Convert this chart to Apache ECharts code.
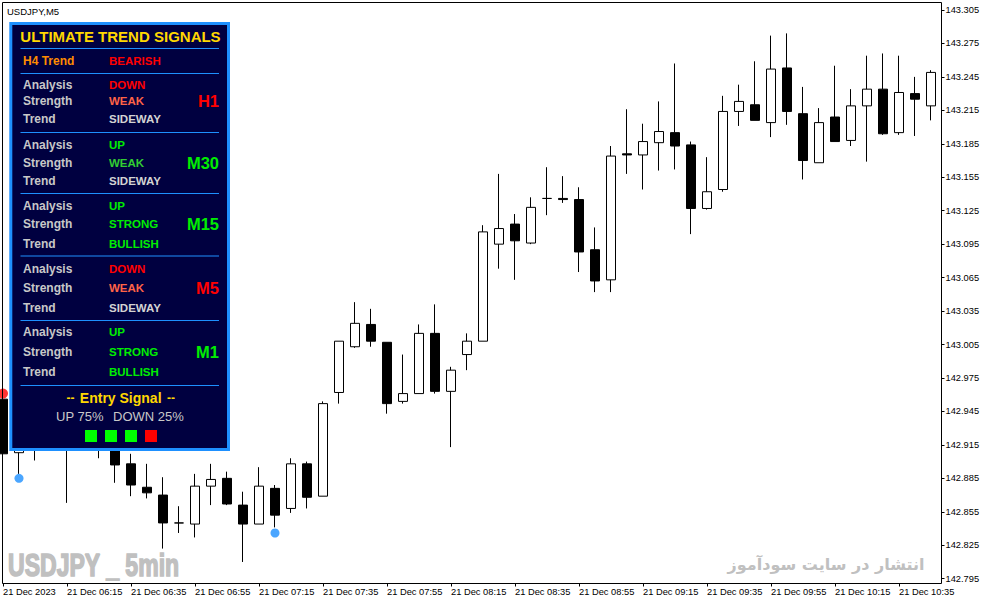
<!DOCTYPE html>
<html>
<head>
<meta charset="utf-8">
<title>USDJPY M5</title>
<script src="https://cdn.jsdelivr.net/npm/echarts/dist/echarts.min.js"></script>
<style>
  html, body { margin: 0; padding: 0; background: #fff; }
  #chart { width: 987px; height: 605px; }
</style>
</head>
<body>
<div id="chart"></div>
<script>
// 5 minute bars, 21 Dec 2023
const times = [
  "05:55", "06:00", "06:05", "06:10", "06:15", "06:20", "06:25", "06:30", "06:35", "06:40",
  "06:45", "06:50", "06:55", "07:00", "07:05", "07:10", "07:15", "07:20", "07:25", "07:30",
  "07:35", "07:40", "07:45", "07:50", "07:55", "08:00", "08:05", "08:10", "08:15", "08:20",
  "08:25", "08:30", "08:35", "08:40", "08:45", "08:50", "08:55", "09:00", "09:05", "09:10",
  "09:15", "09:20", "09:25", "09:30", "09:35", "09:40", "09:45", "09:50", "09:55", "10:00",
  "10:05", "10:10", "10:15", "10:20", "10:25", "10:30", "10:35", "10:40", "10:45"
];

const open = [
  142.956, 142.908, 142.929, 142.915, 142.938, 142.920, 142.933, 142.920, 142.898, 142.877,
  142.870, 142.845, 142.844, 142.878, 142.885, 142.861, 142.844, 142.876, 142.858, 142.898,
  142.869, 142.962, 143.003, 143.023, 143.007, 142.954, 142.961, 143.015, 142.963, 142.996,
  143.008, 143.095, 143.113, 143.096, 143.136, 143.136, 143.135, 143.090, 143.063, 143.176,
  143.175, 143.186, 143.195, 143.184, 143.127, 143.144, 143.214, 143.220, 143.204, 143.253,
  143.212, 143.168, 143.209, 143.188, 143.219, 143.234, 143.195, 143.230, 143.219
];
const close = [
  142.907, 142.929, 142.915, 142.938, 142.920, 142.933, 142.920, 142.897, 142.879, 142.872,
  142.845, 142.845, 142.878, 142.884, 142.862, 142.844, 142.878, 142.852, 142.898, 142.868,
  142.952, 143.008, 143.024, 143.008, 142.952, 142.961, 143.015, 142.963, 142.982, 143.008,
  143.106, 143.109, 143.098, 143.128, 143.136, 143.135, 143.088, 143.062, 143.174, 143.175,
  143.187, 143.196, 143.183, 143.127, 143.142, 143.214, 143.223, 143.206, 143.252, 143.214,
  143.170, 143.204, 143.187, 143.219, 143.234, 143.194, 143.231, 143.225, 143.249
];
const high = [
  142.958, 142.933, 142.938, 142.947, 142.951, 142.938, 142.942, 142.929, 142.907, 142.898,
  142.886, 142.860, 142.889, 142.898, 142.891, 142.873, 142.895, 142.879, 142.903, 142.900,
  142.954, 143.008, 143.043, 143.037, 143.007, 142.996, 143.023, 143.041, 142.985, 143.015,
  143.112, 143.158, 143.122, 143.137, 143.164, 143.156, 143.146, 143.110, 143.183, 143.216,
  143.203, 143.223, 143.257, 143.187, 143.173, 143.228, 143.238, 143.259, 143.282, 143.284,
  143.236, 143.217, 143.255, 143.234, 143.264, 143.266, 143.264, 143.245, 143.251
];
const low = [
  142.906, 142.889, 142.901, 142.913, 142.863, 142.914, 142.903, 142.881, 142.869, 142.867,
  142.822, 142.836, 142.832, 142.861, 142.861, 142.810, 142.844, 142.841, 142.854, 142.858,
  142.869, 142.952, 143.002, 143.003, 142.943, 142.952, 142.961, 142.961, 142.913, 142.982,
  143.008, 143.073, 143.063, 143.095, 143.121, 143.132, 143.070, 143.052, 143.052, 143.158,
  143.144, 143.161, 143.162, 143.104, 143.126, 143.142, 143.201, 143.206, 143.191, 143.202,
  143.153, 143.168, 143.187, 143.183, 143.169, 143.193, 143.193, 143.192, 143.206
];

// signal dots
const buyIdx = [1, 17];
const buyPrice = [142.885, 142.836];
const sellIdx = [0];
const sellPrice = [142.961];

// tick labels
const xLabels = [
  "21 Dec 2023", "21 Dec 06:15", "21 Dec 06:35", "21 Dec 06:55", "21 Dec 07:15",
  "21 Dec 07:35", "21 Dec 07:55", "21 Dec 08:15", "21 Dec 08:35", "21 Dec 08:55",
  "21 Dec 09:15", "21 Dec 09:35", "21 Dec 09:55", "21 Dec 10:15", "21 Dec 10:35"
];
const yMin = 142.795;
const yStep = 0.03;

// indicator panel
const h4Trend = "BEARISH";
const tfLabels = ["H1", "M30", "M15", "M5", "M1"];
const analysis = ["DOWN", "UP", "UP", "DOWN", "UP"];
const strength = ["WEAK", "WEAK", "STRONG", "WEAK", "STRONG"];
const trendState = ["SIDEWAY", "SIDEWAY", "BULLISH", "SIDEWAY", "BULLISH"];
const entryUp = 75;
const entryDown = 25;
const entryBoxes = ["UP", "UP", "UP", "DOWN"];

const FONT = '"Liberation Sans", Arial, sans-serif';

function wordColor(word, dir) {
  if (word === "DOWN" || word === "BEARISH") return "#ff0000";
  if (word === "UP" || word === "BULLISH" || word === "STRONG") return "#00ee00";
  if (word === "WEAK") return dir === "DOWN" ? "#ff6347" : "#32cd32";
  return "#d3d3d3";
}

function txt(x, y, text, fill, font, align) {
  return {
    type: "text",
    x: x,
    y: y,
    z: 102,
    silent: true,
    style: {
      text: text,
      fill: fill,
      font: font,
      textAlign: align || "left",
      textVerticalAlign: "middle",
      align: align || "left",
      verticalAlign: "middle",
    },
  };
}

function buildPanel() {
  const els = [];
  // frame of the price window
  els.push({
    type: "rect",
    z: 50,
    silent: true,
    shape: { x: 2.5, y: 2.5, width: 939, height: 581 },
    style: { fill: "none", stroke: "#000", lineWidth: 1 },
  });
  els.push(txt(7, 11.5, "USDJPY,M5", "#000", "9.5px " + FONT));

  // watermarks
  els.push({
    type: "text",
    x: 8,
    y: 565,
    z: 1,
    scaleX: 0.72,
    silent: true,
    style: {
      text: "USDJPY _ 5min",
      fill: "#c0c0c0",
      stroke: "#c0c0c0",
      lineWidth: 1.6,
      font: "bold 32px " + FONT,
      textAlign: "left",
      textVerticalAlign: "middle",
      align: "left",
      verticalAlign: "middle",
    },
  });
  els.push({
    type: "text",
    x: 826,
    y: 564,
    z: 1,
    silent: true,
    style: {
      text: "انتشار در سایت سودآموز",
      fill: "#c0c0c0",
      font: 'bold 16px "DejaVu Sans", sans-serif',
      textAlign: "center",
      textVerticalAlign: "middle",
      align: "center",
      verticalAlign: "middle",
    },
  });

  // panel box
  els.push({
    type: "rect",
    z: 100,
    silent: true,
    shape: { x: 10.8, y: 23.5, width: 217.7, height: 426 },
    style: { fill: "#000040", stroke: "#1e90ff", lineWidth: 3 },
  });

  const sepY = [48.5, 73.5, 132.5, 193.5, 256, 320.5, 385.5];
  sepY.forEach((y) => {
    els.push({
      type: "line",
      z: 101,
      silent: true,
      shape: { x1: 20.5, y1: y, x2: 219, y2: y },
      style: { stroke: "#1e90ff", lineWidth: 1 },
    });
  });

  els.push(txt(120.5, 36.5, "ULTIMATE TREND SIGNALS", "#ffd700", "bold 15px " + FONT, "center"));
  els.push(txt(23, 61, "H4 Trend", "#ff8c00", "bold 12px " + FONT));
  els.push(txt(109, 61, h4Trend, wordColor(h4Trend), "bold 11.5px " + FONT));

  const rowY = [
    [84.7, 101.3, 119.3],
    [144.7, 162.7, 180.7],
    [205.7, 223.7, 243.5],
    [269, 287.7, 307.7],
    [332.3, 351.7, 371.7],
  ];
  const names = ["Analysis", "Strength", "Trend"];
  tfLabels.forEach((tf, i) => {
    const dir = analysis[i];
    const vals = [analysis[i], strength[i], trendState[i]];
    for (let r = 0; r < 3; r++) {
      els.push(txt(23, rowY[i][r], names[r], "#c8c8c8", "bold 12px " + FONT));
      els.push(txt(109, rowY[i][r], vals[r], wordColor(vals[r], dir), "bold 11.5px " + FONT));
    }
    els.push(txt(219, rowY[i][1], tf, wordColor(dir), "bold 16.5px " + FONT, "right"));
  });

  els.push(txt(70.5, 398, "--", "#ffd700", "bold 12px " + FONT, "center"));
  els.push(txt(120.7, 398, "Entry Signal", "#ffd700", "bold 14px " + FONT, "center"));
  els.push(txt(171, 398, "--", "#ffd700", "bold 12px " + FONT, "center"));
  els.push(txt(56, 416.5, "UP " + entryUp + "%", "#c8c8c8", "13px " + FONT));
  els.push(txt(113, 416.5, "DOWN " + entryDown + "%", "#c8c8c8", "13px " + FONT));

  entryBoxes.forEach((b, i) => {
    els.push({
      type: "rect",
      z: 102,
      silent: true,
      shape: { x: 85 + i * 20, y: 430, width: 12, height: 12 },
      style: { fill: b === "UP" ? "#00ff00" : "#ff0000" },
    });
  });
  return els;
}

const chart = echarts.init(document.getElementById("chart"), null, { renderer: "svg" });

const option = {
  animation: false,
  backgroundColor: "#fff",
  grid: {
    left: 3,
    right: 40,
    top: 2.5,
    bottom: 26.3,
    containLabel: false,
    outerBoundsMode: "none",
  },
  xAxis: {
    type: "category",
    data: times.concat([""]),
    boundaryGap: false,
    offset: 4.8,
    axisLine: { show: false },
    axisTick: { show: true, interval: 3, length: 3, lineStyle: { color: "#000", width: 1 } },
    axisLabel: {
      interval: 3,
      align: "left",
      margin: 4,
      color: "#000",
      fontSize: 9.3,
      fontFamily: FONT,
      formatter: (v, i) => (i % 4 === 0 && xLabels[i / 4]) || "",
    },
    splitLine: { show: false },
  },
  yAxis: {
    type: "value",
    position: "right",
    offset: -5.5,
    min: yMin,
    max: 143.3117,
    interval: yStep,
    axisLine: { show: false },
    axisTick: { show: true, length: 3, lineStyle: { color: "#000", width: 1 } },
    axisLabel: {
      color: "#000",
      fontSize: 9.3,
      fontFamily: FONT,
      margin: 4,
      showMinLabel: true,
      showMaxLabel: false,
      formatter: (v) => v.toFixed(3),
    },
    splitLine: { show: false },
  },
  series: [
    {
      type: "candlestick",
      data: open.map((o, i) => [o, close[i], low[i], high[i]]),
      barWidth: 10,
      clip: true,
      itemStyle: {
        color: "#ffffff",
        color0: "#000000",
        borderColor: "#000000",
        borderColor0: "#000000",
        borderColorDoji: "#000000",
        borderWidth: 1,
      },
    },
    {
      type: "scatter",
      data: buyIdx.map((k, j) => [k, buyPrice[j]]),
      symbol: "circle",
      symbolSize: 9,
      clip: false,
      itemStyle: { color: "#1e90ff" },
      z: 5,
    },
    {
      type: "scatter",
      data: sellIdx.map((k, j) => [k, sellPrice[j]]),
      symbol: "circle",
      symbolSize: 10,
      clip: false,
      itemStyle: { color: "#ff0000" },
      z: 5,
    },
  ],
  graphic: buildPanel(),
};

chart.setOption(option);
</script>
</body>
</html>
